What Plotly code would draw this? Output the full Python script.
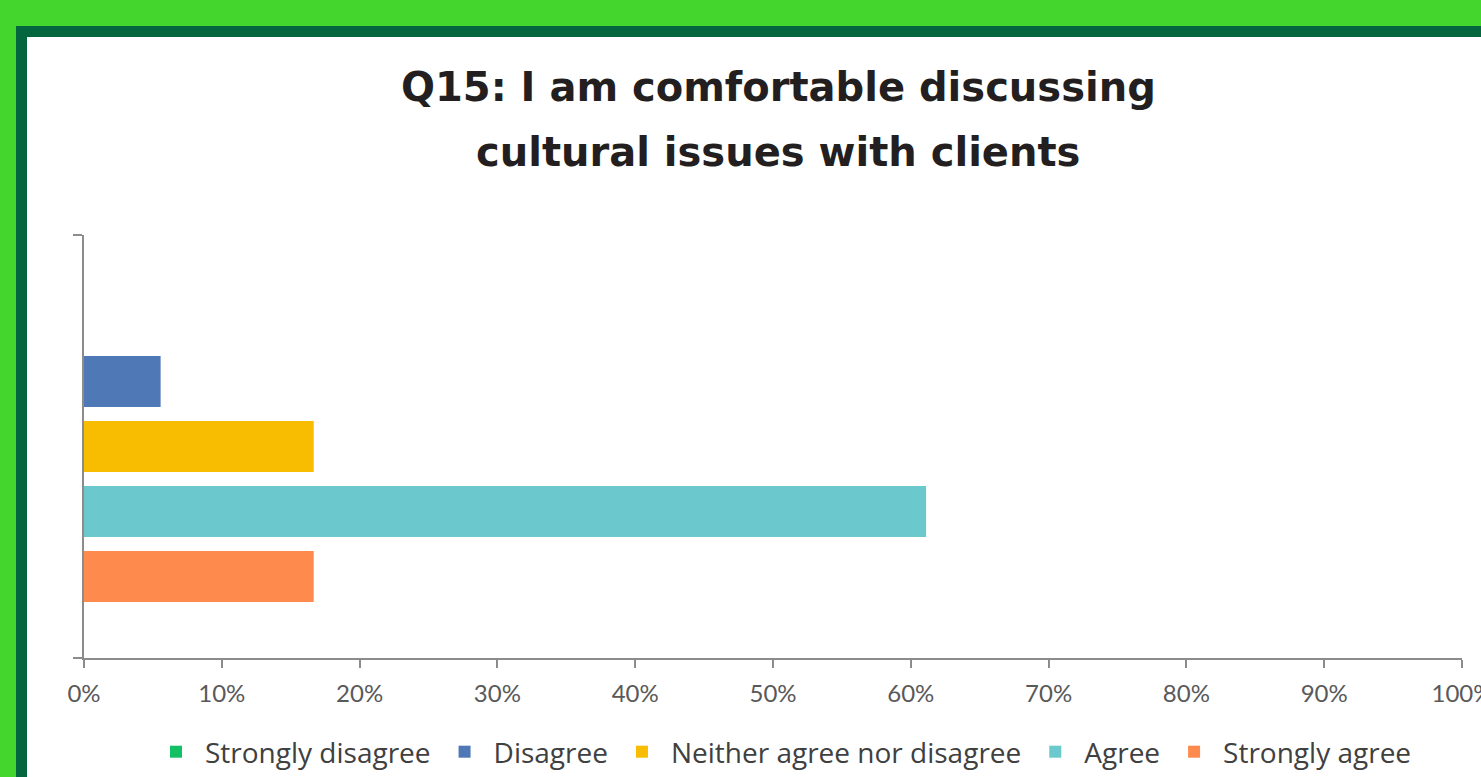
import plotly.graph_objects as go

categories = ["Q15"]
series_names = ["Strongly disagree", "Disagree", "Neither agree nor disagree", "Agree", "Strongly agree"]
series_values = [0.0, 5.56, 16.67, 61.11, 16.67]
series_colors = ["#14C064", "#4E79B6", "#F8BD00", "#6BC8CC", "#FF8A4E"]
x_tick_values = [0, 10, 20, 30, 40, 50, 60, 70, 80, 90, 100]
x_tick_labels = [f"{v}%" for v in x_tick_values]
title_lines = ["Q15: I am comfortable discussing", "cultural issues with clients"]

W, H = 1481, 777
L, R, T, B = 84, 1462, 235, 658

fig = go.Figure()
for name, val, col in zip(series_names, series_values, series_colors):
    fig.add_trace(go.Bar(
        y=categories, x=[val], name=name, orientation="h",
        marker=dict(color=col, line=dict(width=0)),
    ))

def px2x(px):
    return (px - L) / (R - L)

def py2y(py):
    return (B - py) / (B - T)

shapes = [
    dict(type="rect", xref="paper", yref="paper", layer="below",
         x0=px2x(16), x1=px2x(W + 50), y0=py2y(H + 50), y1=py2y(26),
         fillcolor="#04663F", line=dict(width=0)),
    dict(type="rect", xref="paper", yref="paper", layer="below",
         x0=px2x(27), x1=px2x(W + 50), y0=py2y(H + 50), y1=py2y(37),
         fillcolor="#FFFFFF", line=dict(width=0)),
]

title_font = dict(family="DejaVu Sans, Liberation Sans, Arial, sans-serif", size=40,
                  color="#231F20", weight="bold")
annotations = [
    dict(text=title_lines[0], xref="paper", yref="paper", x=px2x(778), y=py2y(87),
         xanchor="center", yanchor="middle", showarrow=False, font=title_font),
    dict(text=title_lines[1], xref="paper", yref="paper", x=px2x(778), y=py2y(152),
         xanchor="center", yanchor="middle", showarrow=False, font=title_font),
]

fig.update_layout(
    width=W, height=H,
    margin=dict(l=L, r=W - R, t=T, b=H - B, pad=0, autoexpand=False),
    paper_bgcolor="#45D62E",
    plot_bgcolor="rgba(0,0,0,0)",
    barmode="group",
    bargap=0.232,
    bargroupgap=0.215,
    shapes=shapes,
    annotations=annotations,
    showlegend=True,
    legend=dict(
        orientation="h", x=px2x(782), xanchor="center",
        y=py2y(752), yanchor="middle",
        font=dict(family="Open Sans, Lato, sans-serif", size=28, color="#404040"),
        bgcolor="rgba(0,0,0,0)", traceorder="normal",
        itemwidth=48,
        itemclick=False,
    ),
    xaxis=dict(
        range=[0, 100], tickvals=x_tick_values, ticktext=x_tick_labels,
        showgrid=False, zeroline=False,
        showline=True, linecolor="#8C8C8C", linewidth=2,
        ticks="outside", ticklen=8, tickwidth=2, tickcolor="#8C8C8C",
        tickfont=dict(family="Lato, Carlito, sans-serif", size=24, color="#595959"),
        ticklabelstandoff=5,
        ticklabeloverflow="allow",
        fixedrange=True,
    ),
    yaxis=dict(
        autorange="reversed",
        showticklabels=False, showgrid=False, zeroline=False,
        showline=True, linecolor="#8C8C8C", linewidth=2,
        ticks="outside", ticklen=9, tickwidth=2, tickcolor="#8C8C8C",
        tickson="boundaries",
        fixedrange=True,
    ),
)

fig.write_html("out.html")
